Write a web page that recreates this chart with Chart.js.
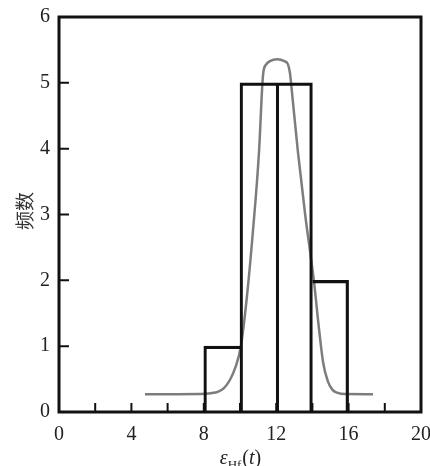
<!DOCTYPE html>
<html>
<head>
<meta charset="utf-8">
<script src="https://cdn.jsdelivr.net/npm/chart.js@4.4.1/dist/chart.umd.min.js"></script>
<style>
    html, body { margin: 0; padding: 0; background: #fff; }
    #wrap { width: 430px; height: 466px; position: relative; }
</style>
</head>
<body>
<div id="wrap"><canvas id="histChart"></canvas></div>
<script>
// --- Histogram bins (centre, count), bin width 2 ---
const binCenters = [9, 11, 13, 15];
const binCounts = [1, 5, 5, 2];

// --- Fitted density curve ---
const curveX = [4.75, 6.5, 7.8, 8.4, 8.8, 9.1, 9.45, 9.75, 10.05, 10.4, 10.7, 11.05, 11.24, 11.3, 11.45, 11.65, 12.05, 12.45, 12.65, 12.76, 12.82, 13.2, 13.6, 14.1, 14.35, 14.6, 14.85, 15.1, 15.4, 15.8, 17.35];
const curveY = [0.27, 0.27, 0.272, 0.285, 0.31, 0.36, 0.49, 0.68, 1.0, 1.8, 2.7, 3.95, 5.0, 5.18, 5.28, 5.33, 5.36, 5.33, 5.28, 5.15, 5.0, 3.95, 3.0, 1.95, 1.3, 0.74, 0.47, 0.34, 0.29, 0.272, 0.27];

// --- Axis ticks ---
const xTickMarks = [2, 4, 6, 8, 10, 12, 14, 16, 18];
const yTickMarks = [1, 2, 3, 4, 5];

const serif = "'Liberation Serif', 'DejaVu Serif', serif";
const ink = '#111';

// bars share edges, so drop the inner duplicate sides
const barBorders = [
    { top: 2.5, left: 2.5, right: 0, bottom: 0 },
    { top: 2.5, left: 2.5, right: 0, bottom: 0 },
    { top: 2.5, left: 2.5, right: 2.5, bottom: 0 },
    { top: 2.5, left: 0, right: 2.5, bottom: 0 }
];

// frame, inward ticks and the two axis titles
const framePlugin = {
    id: 'frame',
    afterDraw(chart) {
        const { ctx, chartArea: a, scales } = chart;
        ctx.save();
        ctx.strokeStyle = ink;
        ctx.lineWidth = 3;
        ctx.strokeRect(a.left, a.top, a.right - a.left, a.bottom - a.top);

        ctx.lineWidth = 2;
        ctx.beginPath();
        xTickMarks.forEach(v => {
            const px = scales.x.getPixelForValue(v);
            ctx.moveTo(px, a.bottom);
            ctx.lineTo(px, a.bottom - 9);
        });
        yTickMarks.forEach(v => {
            const py = scales.y.getPixelForValue(v);
            ctx.moveTo(a.left, py);
            ctx.lineTo(a.left + 10, py);
        });
        ctx.stroke();

        // x title: ε_Hf(t)
        ctx.fillStyle = '#222';
        ctx.textBaseline = 'alphabetic';
        ctx.textAlign = 'left';
        const base = 464;
        const parts = [
            { t: 'ε', font: `italic 20px ${serif}`, dy: 0 },
            { t: 'Hf', font: `13px ${serif}`, dy: 5 },
            { t: '(', font: `20px ${serif}`, dy: 0 },
            { t: 't', font: `italic 20px ${serif}`, dy: 0 },
            { t: ')', font: `20px ${serif}`, dy: 0 }
        ];
        let total = 0;
        parts.forEach(p => { ctx.font = p.font; p.w = ctx.measureText(p.t).width; total += p.w; });
        let x = 240 - total / 2;
        parts.forEach(p => {
            ctx.font = p.font;
            ctx.fillText(p.t, x, base + p.dy);
            x += p.w + (p.t === 'Hf' ? 1 : 0);
        });

        // y title
        ctx.translate(25, 211);
        ctx.rotate(-Math.PI / 2);
        ctx.textAlign = 'center';
        ctx.textBaseline = 'middle';
        ctx.font = "19px 'Noto Sans CJK SC', sans-serif";
        ctx.fillStyle = '#333';
        ctx.fillText('频数', 0, 0);
        ctx.restore();
    }
};

const ctx = document.getElementById('histChart').getContext('2d');

new Chart(ctx, {
    type: 'bar',
    data: {
        datasets: [
            {
                type: 'bar',
                data: binCenters.map((c, i) => ({ x: c, y: binCounts[i] })),
                backgroundColor: 'rgba(255,255,255,0)',
                borderColor: ink,
                borderWidth: (c) => barBorders[c.dataIndex],
                borderSkipped: false,
                barPercentage: 1,
                categoryPercentage: 1,
                order: 0
            },
            {
                type: 'line',
                data: curveX.map((x, i) => ({ x: x, y: curveY[i] })),
                borderColor: '#7d7d7d',
                borderWidth: 2.5,
                pointRadius: 0,
                cubicInterpolationMode: 'monotone',
                order: 1
            }
        ]
    },
    options: {
        responsive: true,
        maintainAspectRatio: false,
        animation: false,
        layout: { padding: { left: 0, top: 17, right: 9, bottom: 0 } },
        plugins: { legend: { display: false }, tooltip: { enabled: false } },
        scales: {
            x: {
                type: 'linear',
                min: 0,
                max: 20,
                offset: false,
                grid: { display: false, drawTicks: false },
                border: { display: false },
                ticks: { stepSize: 4, padding: 11, color: '#222', font: { family: serif, size: 20 } },
                afterFit: (s) => { s.height = 54; s.paddingLeft = 0; s.paddingRight = 0; }
            },
            y: {
                min: 0,
                max: 6,
                grid: { display: false, drawTicks: false },
                border: { display: false },
                ticks: { stepSize: 1, padding: 9, color: '#222', font: { family: serif, size: 20 } },
                afterFit: (s) => { s.width = 59; s.paddingTop = 0; s.paddingBottom = 0; }
            }
        }
    },
    plugins: [framePlugin]
});
</script>
</body>
</html>
